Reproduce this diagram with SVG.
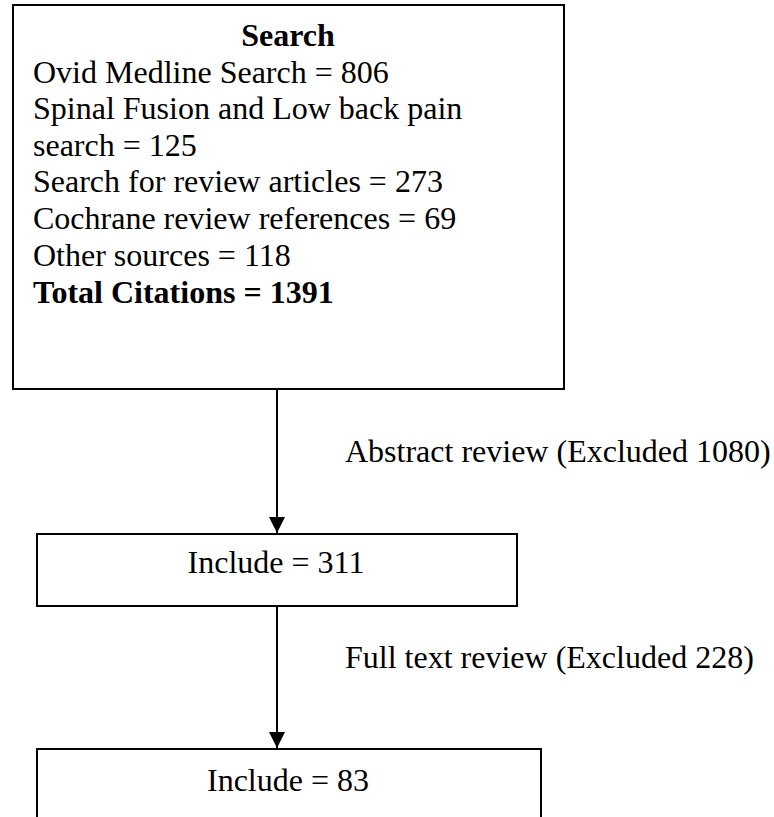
<svg xmlns="http://www.w3.org/2000/svg" width="774" height="817" viewBox="0 0 774 817">
<style>
text{font-family:"Liberation Serif","Times New Roman",serif;font-size:32px;fill:#000}
.b{font-weight:bold}
.box{fill:#fff;stroke:#000;stroke-width:2}
.conn{stroke:#000;stroke-width:2;fill:none}
</style>
<defs>
<marker id="arr" markerUnits="userSpaceOnUse" markerWidth="17" markerHeight="16" refX="16" refY="8" orient="auto" viewBox="0 0 17 16">
<path d="M0,0 L16,8 L0,16 Z" fill="#000"/>
</marker>
</defs>
<rect width="774" height="817" fill="#fff"/>
<g id="connectors">
<line class="conn" x1="277" y1="389" x2="277" y2="533" marker-end="url(#arr)"/>
<line class="conn" x1="277" y1="606" x2="277" y2="748" marker-end="url(#arr)"/>
<text x="345" y="462">Abstract review (Excluded 1080)</text>
<text x="345" y="668">Full text review (Excluded 228)</text>
</g>
<g id="search">
<rect class="box" x="13" y="5" width="551" height="384"/>
<text class="b" x="288" y="46" text-anchor="middle">Search</text>
<text x="33" y="83">Ovid Medline Search = 806</text>
<text x="33" y="119">Spinal Fusion and Low back pain</text>
<text x="33" y="156">search = 125</text>
<text x="33" y="192">Search for review articles = 273</text>
<text x="33" y="229">Cochrane review references = 69</text>
<text x="33" y="266">Other sources = 118</text>
<text class="b" x="33" y="303">Total Citations = 1391</text>
</g>
<g id="include311">
<rect class="box" x="37" y="534" width="480" height="72"/>
<text x="276" y="573" text-anchor="middle">Include = 311</text>
</g>
<g id="include83">
<rect class="box" x="37" y="749" width="504" height="100"/>
<text x="288" y="791" text-anchor="middle">Include = 83</text>
</g>
</svg>
